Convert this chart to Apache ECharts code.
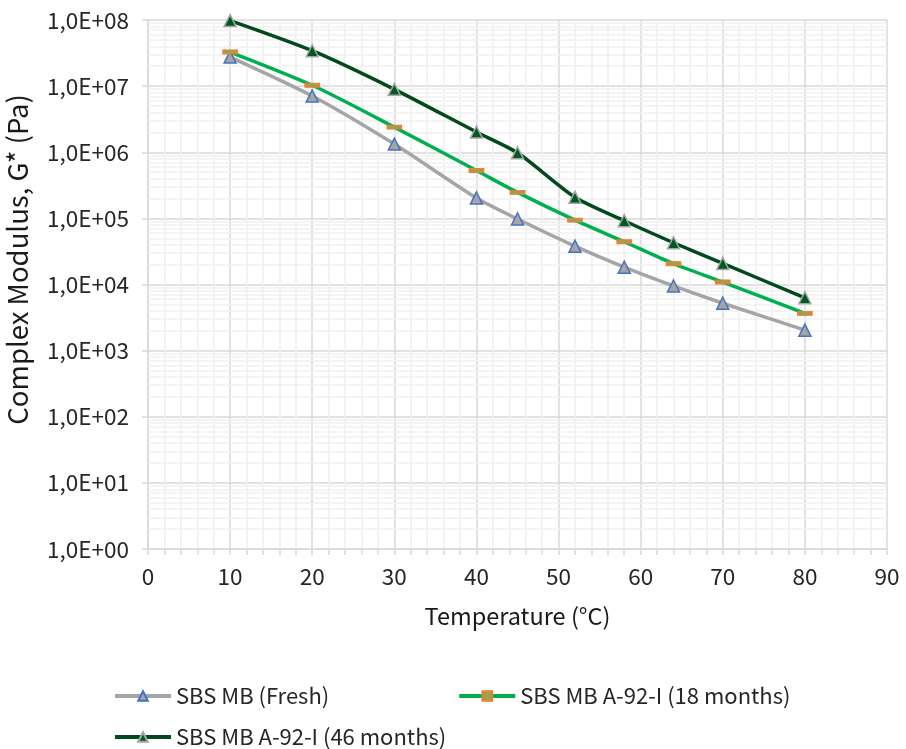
<!DOCTYPE html>
<html>
<head>
<meta charset="utf-8">
<script src="https://cdn.jsdelivr.net/npm/echarts@6/dist/echarts.min.js"></script>
<style>html,body{margin:0;padding:0;background:#fff}#c{width:906px;height:749px}</style>
</head>
<body>
<div id="c"></div>
<script>
var temperatures = [10, 20, 30, 40, 45, 52, 58, 64, 70, 80];
var fresh = [2.75e7, 7.1e6, 1.33e6, 2.03e5, 9.8e4, 3.8e4, 1.83e4, 9.5e3, 5.2e3, 2.04e3];
var aged18 = [3.28e7, 1.03e7, 2.4e6, 5.3e5, 2.47e5, 9.4e4, 4.43e4, 2.06e4, 1.09e4, 3.65e3];
var aged46 = [9.8e7, 3.43e7, 8.95e6, 2.02e6, 9.8e5, 2.08e5, 9.2e4, 4.28e4, 2.08e4, 6.3e3];
var seriesNames = ['SBS MB (Fresh)', 'SBS MB A-92-I (18 months)', 'SBS MB A-92-I (46 months)'];
var yTickLabels = ['1,0E+00','1,0E+01','1,0E+02','1,0E+03','1,0E+04','1,0E+05','1,0E+06','1,0E+07','1,0E+08'];
var xTickLabels = ['0','10','20','30','40','50','60','70','80','90'];

var FONT = 'Noto Sans CJK SC';
var minorY = [];
for (var k = 0; k < 8; k++) for (var m = 2; m <= 9; m++) minorY.push({yAxis: m * Math.pow(10, k)});

function pairs(ys){ return temperatures.map(function(t,i){ return [t, ys[i]]; }); }

var chart = echarts.init(document.getElementById('c'), null, {renderer:'canvas'});
chart.setOption({
  animation: false,
  backgroundColor: '#fff',
  textStyle: {fontFamily: FONT},
  grid: {left: 148, right: 19, top: 20, bottom: 200, containLabel: false, outerBoundsMode: 'none'},
  xAxis: {
    type: 'value', min: 0, max: 90, interval: 10,
    name: 'Temperature (°C)', nameLocation: 'middle', nameGap: 55,
    nameTextStyle: {fontSize: 23.5, color: '#1a1a1a', fontFamily: FONT},
    axisLine: {show: true, lineStyle: {color: '#D9D9D9', width: 1.5}},
    axisTick: {show: true, length: 6, lineStyle: {color: '#D9D9D9', width: 1.5}},
    minorTick: {show: true, splitNumber: 5, length: 6, lineStyle: {color: '#D9D9D9', width: 1.5}},
    splitLine: {show: true, lineStyle: {color: '#D9D9D9', width: 1.5}},
    minorSplitLine: {show: true, lineStyle: {color: '#F0F0F0', width: 1.5}},
    axisLabel: {fontSize: 22.5, color: '#262626', margin: 16, fontFamily: FONT,
      formatter: function(v){ return xTickLabels[Math.round(v/10)]; }}
  },
  yAxis: {
    type: 'log', logBase: 10, min: 1, max: 1e8, interval: 1,
    name: 'Complex Modulus, G* (Pa)', nameLocation: 'middle', nameGap: 117,
    nameTextStyle: {fontSize: 27.5, color: '#1a1a1a', fontFamily: FONT, padding: [0, 0, 0, 50]},
    axisLine: {show: true, lineStyle: {color: '#D9D9D9', width: 1.5}},
    axisTick: {show: true, length: 6, lineStyle: {color: '#D9D9D9', width: 1.5}},
    splitLine: {show: true, lineStyle: {color: '#D9D9D9', width: 1.5}},
    axisLabel: {fontSize: 22.5, color: '#262626', margin: 19, fontFamily: FONT,
      formatter: function(v){ return yTickLabels[Math.round(Math.log10(v))]; }}
  },
  legend: [{
    data: [seriesNames[0], seriesNames[1]],
    left: 108, top: 680, itemWidth: 56, itemHeight: 12, itemGap: 128,
    lineStyle: {width: 4},
    textStyle: {fontSize: 22, color: '#262626', fontFamily: FONT}
  },{
    data: [seriesNames[2]],
    left: 108, top: 721, itemWidth: 56, itemHeight: 12,
    lineStyle: {width: 4},
    textStyle: {fontSize: 22, color: '#262626', fontFamily: FONT}
  }],
  series: [
    {
      name: seriesNames[0], type: 'line', smooth: 0.25, data: pairs(fresh), z: 3,
      lineStyle: {color: '#A5A5A5', width: 3.5},
      symbol: 'triangle', symbolSize: 12,
      itemStyle: {color: '#A5A5A5', borderColor: '#4472C4', borderWidth: 1.5},
      markLine: {silent: true, symbol: 'none', label: {show: false}, z: 1,
        lineStyle: {color: '#F0F0F0', width: 1.5, type: 'solid'}, data: minorY}
    },
    {
      name: seriesNames[1], type: 'line', smooth: 0.25, data: pairs(aged18), z: 4,
      lineStyle: {color: '#00B050', width: 3.5},
      symbol: 'rect', symbolSize: [13, 4],
      itemStyle: {color: '#9FA04A', borderColor: '#ED7D31', borderWidth: 1.5}
    },
    {
      name: seriesNames[2], type: 'line', smooth: 0.25, data: pairs(aged46), z: 5,
      lineStyle: {color: '#004A1C', width: 3.5},
      symbol: 'triangle', symbolSize: 12,
      itemStyle: {color: '#005A22', borderColor: '#A5A5A5', borderWidth: 1.5}
    }
  ]
});
</script>
</body>
</html>
